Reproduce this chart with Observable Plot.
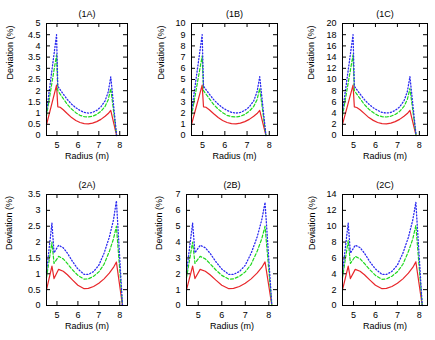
<!DOCTYPE html>
<html>
<head>
<meta charset="utf-8">
<script src="https://cdn.jsdelivr.net/npm/d3@7"></script>
<script src="https://cdn.jsdelivr.net/npm/@observablehq/plot@0.6"></script>
<style>
  html, body { margin: 0; padding: 0; background: white; }
  #wrap { position: relative; width: 435px; height: 340px; overflow: hidden; }
  #wrap svg { position: absolute; }
</style>
</head>
<body>
<div id="wrap"></div>
<script>
// ---- data ----
const xTicks = [5, 6, 7, 8];
const xLabel = "Radius (m)";
const yLabel = "Deviation (%)";

const xRow1 = [4.5, 4.98, 5.04, 5.15, 5.3, 5.5, 5.7, 5.9, 6.1, 6.3, 6.5, 6.7, 6.9, 7.1, 7.3, 7.45, 7.57, 7.85];
const xRow2 = [4.5, 4.76, 4.86, 5.08, 5.3, 5.5, 5.75, 6.0, 6.3, 6.5, 6.75, 7.0, 7.25, 7.5, 7.7, 7.84, 8.13];

const red1A   = [0.48, 2.25, 1.28, 1.26, 1.15, 0.97, 0.8, 0.67, 0.58, 0.53, 0.52, 0.55, 0.62, 0.72, 0.86, 0.98, 1.12, 0];
const green1A = [0.88, 3.6, 2.0, 1.85, 1.65, 1.38, 1.18, 1.02, 0.9, 0.84, 0.83, 0.86, 0.94, 1.08, 1.3, 1.6, 2.1, 0];
const blue1A  = [1.05, 4.5, 2.2, 2.05, 1.85, 1.6, 1.4, 1.24, 1.12, 1.03, 1.0, 1.03, 1.12, 1.28, 1.55, 1.95, 2.62, 0];

const red1B   = [0.98, 4.5, 2.56, 2.52, 2.3, 1.94, 1.6, 1.34, 1.16, 1.06, 1.04, 1.1, 1.24, 1.44, 1.72, 1.96, 2.24, 0];
const green1B = [1.75, 7.1, 4.0, 3.7, 3.3, 2.76, 2.36, 2.04, 1.8, 1.68, 1.66, 1.72, 1.88, 2.16, 2.6, 3.2, 4.2, 0];
const blue1B  = [2.1, 9.0, 4.4, 4.1, 3.7, 3.2, 2.8, 2.48, 2.24, 2.06, 2.0, 2.06, 2.24, 2.56, 3.1, 3.9, 5.25, 0];

const red1C   = [2.0, 9.0, 5.1, 5.0, 4.6, 3.9, 3.2, 2.7, 2.32, 2.12, 2.08, 2.2, 2.48, 2.88, 3.44, 3.92, 4.5, 0];
const green1C = [3.5, 14.4, 8.0, 7.4, 6.6, 5.5, 4.7, 4.1, 3.6, 3.36, 3.3, 3.44, 3.76, 4.3, 5.2, 6.4, 8.4, 0];
const blue1C  = [4.2, 18.0, 8.8, 8.2, 7.4, 6.4, 5.6, 4.96, 4.48, 4.12, 4.0, 4.12, 4.48, 5.1, 6.2, 7.8, 10.5, 0];

const red2A   = [0.49, 1.24, 0.85, 1.14, 1.08, 0.97, 0.8, 0.64, 0.53, 0.54, 0.6, 0.7, 0.84, 1.02, 1.2, 1.37, 0];
const green2A = [0.88, 2.0, 1.33, 1.55, 1.47, 1.32, 1.12, 0.95, 0.83, 0.84, 0.92, 1.06, 1.3, 1.7, 2.1, 2.5, 0];
const blue2A  = [1.05, 2.6, 1.66, 1.9, 1.82, 1.65, 1.38, 1.15, 0.98, 0.98, 1.07, 1.27, 1.65, 2.15, 2.7, 3.3, 0];

const red2B   = [0.98, 2.48, 1.7, 2.28, 2.16, 1.94, 1.6, 1.28, 1.06, 1.08, 1.2, 1.4, 1.68, 2.04, 2.4, 2.75, 0];
const green2B = [1.75, 4.0, 2.66, 3.1, 2.94, 2.64, 2.24, 1.9, 1.66, 1.68, 1.84, 2.12, 2.6, 3.4, 4.2, 5.0, 0];
const blue2B  = [2.1, 5.2, 3.32, 3.8, 3.64, 3.3, 2.76, 2.3, 1.96, 1.96, 2.14, 2.54, 3.3, 4.3, 5.4, 6.5, 0];

const red2C   = [1.96, 4.96, 3.4, 4.56, 4.32, 3.88, 3.2, 2.56, 2.12, 2.16, 2.4, 2.8, 3.36, 4.08, 4.8, 5.5, 0];
const green2C = [3.5, 8.2, 5.3, 6.2, 5.9, 5.3, 4.5, 3.8, 3.3, 3.36, 3.7, 4.25, 5.2, 6.8, 8.4, 10.1, 0];
const blue2C  = [4.2, 10.4, 6.6, 7.6, 7.3, 6.6, 5.5, 4.6, 3.92, 3.92, 4.3, 5.1, 6.6, 8.6, 10.8, 13.0, 0];

const yTicksA1 = [0, 0.5, 1, 1.5, 2, 2.5, 3, 3.5, 4, 4.5, 5];
const yTicksB1 = [0, 1, 2, 3, 4, 5, 6, 7, 8, 9, 10];
const yTicksC1 = [0, 2, 4, 6, 8, 10, 12, 14, 16, 18, 20];
const yTicksA2 = [0, 0.5, 1, 1.5, 2, 2.5, 3, 3.5];
const yTicksB2 = [0, 1, 2, 3, 4, 5, 6, 7];
const yTicksC2 = [0, 2, 4, 6, 8, 10, 12, 14];

// ---- layout ----
const panels = [
  {title: "(1A)", x: xRow1, red: red1A, green: green1A, blue: blue1A, yt: yTicksA1, left: 0,   top: 0,   ml: 46, mr: 18, mt: 23, mb: 35, ylx: -36.5},
  {title: "(1B)", x: xRow1, red: red1B, green: green1B, blue: blue1B, yt: yTicksB1, left: 145, top: 0,   ml: 46, mr: 13, mt: 23, mb: 35, ylx: -30},
  {title: "(1C)", x: xRow1, red: red1C, green: green1C, blue: blue1C, yt: yTicksC1, left: 290, top: 0,   ml: 52, mr: 8,  mt: 23, mb: 35, ylx: -31},
  {title: "(2A)", x: xRow2, red: red2A, green: green2A, blue: blue2A, yt: yTicksA2, left: 0,   top: 170, ml: 46, mr: 18, mt: 24, mb: 35, ylx: -37},
  {title: "(2B)", x: xRow2, red: red2B, green: green2B, blue: blue2B, yt: yTicksB2, left: 145, top: 170, ml: 41, mr: 13, mt: 24, mb: 35, ylx: -27},
  {title: "(2C)", x: xRow2, red: red2C, green: green2C, blue: blue2C, yt: yTicksC2, left: 290, top: 170, ml: 52, mr: 8,  mt: 24, mb: 35, ylx: -30.5}
];

const W = 145, H = 170, TL = 4;
const wrap = document.getElementById("wrap");

for (const p of panels) {
  const fw = W - p.ml - p.mr, fh = H - p.mt - p.mb;
  const ymax = p.yt[p.yt.length - 1];
  const pts = (ys) => ys.map((y, i) => ({x: p.x[i], y}));
  const svg = Plot.plot({
    width: W, height: H,
    marginLeft: p.ml, marginRight: p.mr, marginTop: p.mt, marginBottom: p.mb,
    style: {fontSize: "9px", fontFamily: "'Liberation Sans', Arial, sans-serif", background: "transparent", overflow: "visible", color: "black"},
    x: {domain: [4.5, 8.37]},
    y: {domain: [0, ymax]},
    marks: [
      Plot.line(pts(p.red),   {x: "x", y: "y", stroke: "#e8262a", strokeWidth: 1.2}),
      Plot.line(pts(p.green), {x: "x", y: "y", stroke: "#1fd81f", strokeWidth: 1.2, strokeDasharray: "3,2"}),
      Plot.line(pts(p.blue),  {x: "x", y: "y", stroke: "#2b2bf0", strokeWidth: 1.3, strokeDasharray: "1.1,2"}),
      Plot.ruleX(xTicks, {x: d => d, insetTop: fh - TL, stroke: "black"}),
      Plot.ruleX(xTicks, {x: d => d, insetBottom: fh - TL, stroke: "black"}),
      Plot.ruleY(p.yt, {y: d => d, insetRight: fw - TL, stroke: "black"}),
      Plot.ruleY(p.yt, {y: d => d, insetLeft: fw - TL, stroke: "black"}),
      Plot.frame({stroke: "black"}),
      Plot.axisX({ticks: xTicks, tickSize: 0, tickPadding: 6, label: null, tickFormat: d => String(d)}),
      Plot.axisY({ticks: p.yt, tickSize: 0, tickPadding: 6, label: null, tickFormat: d => String(d)}),
      Plot.text([p.title], {text: d => d, frameAnchor: "top", dy: -13}),
      Plot.text([xLabel], {text: d => d, frameAnchor: "bottom", dy: 23.5}),
      Plot.text([yLabel], {text: d => d, frameAnchor: "left", rotate: -90, dx: p.ylx})
    ]
  });
  svg.style.left = p.left + "px";
  svg.style.top = p.top + "px";
  wrap.appendChild(svg);
}
</script>
</body>
</html>
